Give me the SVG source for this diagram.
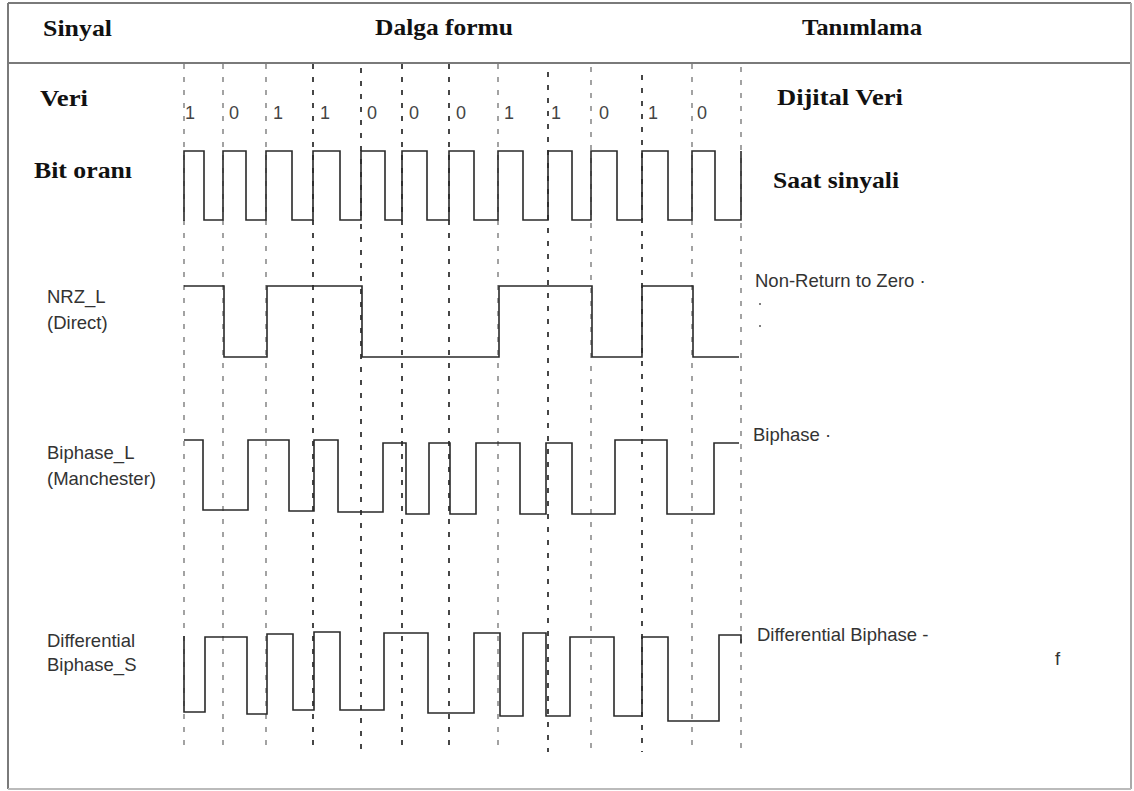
<svg xmlns="http://www.w3.org/2000/svg" width="1134" height="791" viewBox="0 0 1134 791">
<style>
.frame{fill:none;stroke:#7a7a7a;stroke-width:2}
.hd{font-family:"Liberation Serif","Times New Roman",serif;font-weight:bold;font-size:24px;fill:#111}
.sn{font-family:"Liberation Sans",Arial,sans-serif;font-size:18.5px;fill:#333}
.bit{font-family:"Liberation Sans",Arial,sans-serif;font-size:18px;fill:#444}
.dl{fill:none;stroke-width:1.8;stroke-dasharray:5 8}
.dk{stroke:#333}
.lt{stroke:#999}
.wave{fill:none;stroke:#2a2a2a;stroke-width:1.6;stroke-linejoin:miter}
</style>
<rect width="1134" height="791" fill="#fff"/>
<g id="frame">
<line class="frame" x1="8" y1="3" x2="1131" y2="3"/>
<line class="frame" x1="8" y1="63" x2="1131" y2="63"/>
<line class="frame" x1="8" y1="3" x2="8" y2="789"/>
<line x1="1131" y1="3" x2="1131" y2="789" stroke="#aaa" stroke-width="2"/>
<line x1="8" y1="789" x2="1131" y2="789" stroke="#bbb" stroke-width="2"/>
</g>
<g id="headers">
<text class="hd" x="43" y="36" textLength="69" lengthAdjust="spacingAndGlyphs">Sinyal</text>
<text class="hd" x="375" y="35" textLength="138" lengthAdjust="spacingAndGlyphs">Dalga formu</text>
<text class="hd" x="802" y="35" textLength="120" lengthAdjust="spacingAndGlyphs">Tanımlama</text>
</g>
<g id="gridlines">
<line class="dl lt" x1="184" y1="64" x2="184" y2="752"/>
<line class="dl lt" x1="223" y1="64" x2="223" y2="752"/>
<line class="dl lt" x1="266" y1="64" x2="266" y2="752"/>
<line class="dl dk" x1="313" y1="64" x2="313" y2="752"/>
<line class="dl dk" x1="361" y1="68" x2="361" y2="756"/>
<line class="dl dk" x1="402" y1="64" x2="402" y2="752"/>
<line class="dl dk" x1="449" y1="64" x2="449" y2="752"/>
<line class="dl lt" x1="498" y1="64" x2="498" y2="752"/>
<line class="dl dk" x1="548" y1="72" x2="548" y2="752"/>
<line class="dl lt" x1="591" y1="67" x2="591" y2="752"/>
<line class="dl dk" x1="642" y1="75" x2="642" y2="752"/>
<line class="dl lt" x1="692" y1="64" x2="692" y2="752"/>
<line class="dl lt" x1="741" y1="67" x2="741" y2="752"/>
</g>
<g id="row-data">
<text class="hd" x="40" y="106" textLength="48" lengthAdjust="spacingAndGlyphs">Veri</text>
<text class="bit" x="185" y="119">1</text>
<text class="bit" x="229" y="119">0</text>
<text class="bit" x="273" y="119">1</text>
<text class="bit" x="320" y="119">1</text>
<text class="bit" x="367" y="119">0</text>
<text class="bit" x="409" y="119">0</text>
<text class="bit" x="456" y="119">0</text>
<text class="bit" x="504" y="119">1</text>
<text class="bit" x="551" y="119">1</text>
<text class="bit" x="599" y="119">0</text>
<text class="bit" x="648" y="119">1</text>
<text class="bit" x="697" y="119">0</text>
<text class="hd" x="777" y="105" textLength="126" lengthAdjust="spacingAndGlyphs">Dijital Veri</text>
</g>
<g id="row-clock">
<text class="hd" x="34" y="178" textLength="98" lengthAdjust="spacingAndGlyphs">Bit oranı</text>
<path class="wave" d="M184,221 V151 H204 V220 H223 V151 H246 V220 H266 V151 H292 V220 H313 V151 H340 V220 H361 V151 H385 V220 H402 V151 H427 V220 H449 V151 H474 V220 H498 V151 H523 V220 H548 V151 H572 V220 H591 V151 H617 V220 H642 V151 H668 V220 H692 V151 H715 V220 H741 V151"/>
<text class="hd" x="773" y="188" textLength="126" lengthAdjust="spacingAndGlyphs">Saat sinyali</text>
</g>
<g id="row-nrzl">
<text class="sn" x="47" y="303">NRZ_L</text>
<text class="sn" x="47" y="329">(Direct)</text>
<path class="wave" d="M184,286 H224 V357 H267 V286 H362 V357 H499 V286 H592 V357 H642 V286 H693 V357 H739"/>
<text class="sn" x="755" y="287">Non-Return to Zero ·</text>
<circle cx="760" cy="304" r="1" fill="#555"/>
<circle cx="760" cy="326" r="1" fill="#555"/>
</g>
<g id="row-biphase">
<text class="sn" x="47" y="459">Biphase_L</text>
<text class="sn" x="47" y="485">(Manchester)</text>
<path class="wave" d="M184,440 H203 V510 H248 V440 H289 V511 H314 V440 H338 V512 H383 V443 H406 V514 H429 V443 H450 V514 H476 V443 H520 V514 H546 V443 H572 V514 H615 V440 H667 V514 H714 V443 H739"/>
<text class="sn" x="753" y="441">Biphase ·</text>
</g>
<g id="row-diffbiphase">
<text class="sn" x="47" y="647">Differential</text>
<text class="sn" x="47" y="671">Biphase_S</text>
<path class="wave" d="M184,636 V712 H205 V637 H247 V714 H267 V634 H293 V710 H314 V632 H340 V710 H384 V633 H428 V713 H474 V633 H500 V716 H523 V633 H546 V716 H570 V637 H614 V716 H642 V637 H668 V721 H719 V635 H741 V643"/>
<text class="sn" x="757" y="641">Differential Biphase -</text>
<text class="sn" x="1055" y="665" font-size="12" fill="#777">f</text>
</g>
</svg>
